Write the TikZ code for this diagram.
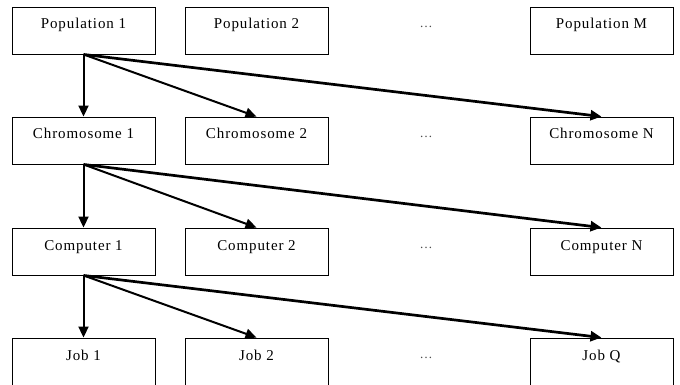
\documentclass[tikz,border=0pt]{standalone}
\usepackage{fontspec}
\setmainfont[LetterSpace=6]{Liberation Serif}
\usetikzlibrary{arrows.meta}
\begin{document}
\begin{tikzpicture}[x=1pt,y=-1pt,
  box/.style={draw,line width=0.9pt,minimum width=143pt,minimum height=47pt,inner sep=0pt,
    text height=10pt,text depth=13pt,font=\fontsize{15}{18}\selectfont},
  dotsnode/.style={anchor=base,text=black!70,inner sep=0pt,font=\fontsize{13}{15}\selectfont},
  arr/.style={line width=2pt,-{Triangle[length=11pt,width=10pt]}},
  arrlong/.style={line width=2.7pt,-{Triangle[length=11pt,width=10pt]}}]
\fill[white] (0,0) rectangle (680,385);
\useasboundingbox (0,0) rectangle (680,385);
\clip (0,0) rectangle (680,384);
% row 1
\node[box] (p1) at (83.5,30.5) {Population 1};
\node[box] (p2) at (256.5,30.5) {Population 2};
\node[box] (pM) at (601.5,30.5) {Population M};
\node[dotsnode] (d1) at (426,28) {…};
% row 2
\node[box] (c1) at (83.5,140.5) {Chromosome 1};
\node[box] (c2) at (256.5,140.5) {Chromosome 2};
\node[box] (cN) at (601.5,140.5) {Chromosome N};
\node[dotsnode] (d2) at (426,138) {…};
% row 3
\node[box] (k1) at (83.5,251.5) {Computer 1};
\node[box] (k2) at (256.5,251.5) {Computer 2};
\node[box] (kN) at (601.5,251.5) {Computer N};
\node[dotsnode] (d3) at (426,248) {…};
% row 4
\node[box] (j1) at (83.5,361.5) {Job 1};
\node[box] (j2) at (256.5,361.5) {Job 2};
\node[box] (jQ) at (601.5,361.5) {Job Q};
\node[dotsnode] (d4) at (426,358) {…};
% arrows
\draw[arr] (p1.south) -- (c1.north);
\draw[arr] (p1.south) -- (c2.north);
\draw[arrlong] (p1.south) -- (cN.north);
\draw[arr] (c1.south) -- (k1.north);
\draw[arr] (c1.south) -- (k2.north);
\draw[arrlong] (c1.south) -- (kN.north);
\draw[arr] (k1.south) -- (j1.north);
\draw[arr] (k1.south) -- (j2.north);
\draw[arrlong] (k1.south) -- (jQ.north);
\end{tikzpicture}
\end{document}
